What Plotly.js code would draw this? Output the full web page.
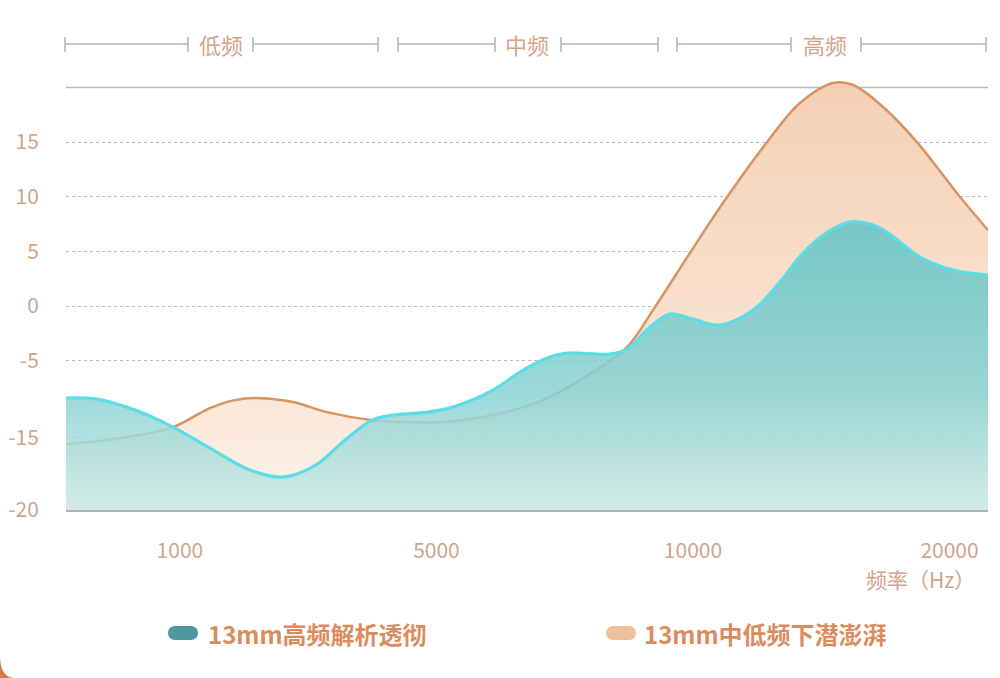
<!DOCTYPE html>
<html>
<head>
<meta charset="utf-8">
<script src="https://cdn.plot.ly/plotly-3.0.1.min.js"></script>
<style>html,body{margin:0;padding:0;background:#fff;}#chart{width:1000px;height:678px;}</style>
</head>
<body>
<div id="chart"></div>
<script>
// ---------- data ----------
const freqLabels = ['1000', '5000', '10000', '20000'];
const freqPos = [1, 2, 3, 4];
const dbTickText = ['15', '10', '5', '0', '-5', '-15', '-20'];
const dbTickVals = [15, 10, 5, 0, -5, -12, -18.65];
const bandLabels = ['低频', '中频', '高频'];
const seriesNames = ['13mm高频解析透彻', '13mm中低频下潜澎湃'];

const tealX = [0.556,0.676,0.825,0.973,1.117,1.273,1.402,1.526,1.643,1.749,1.830,1.95,2.064,2.220,2.326,2.431,2.509,2.676,2.743,2.832,2.910,3.0,3.105,3.234,3.339,3.429,3.52,3.612,3.69,3.756,3.885,4.014,4.150];
const tealY = [-8.42,-8.51,-9.51,-11.07,-12.99,-15.0,-15.64,-14.6,-12.26,-10.43,-9.97,-9.75,-9.24,-7.69,-6.04,-4.76,-4.30,-4.39,-3.93,-1.92,-0.73,-1.19,-1.74,-0.37,2.2,4.85,6.7,7.69,7.5,6.77,4.48,3.29,2.84];

const orangeX = [0.556,0.793,0.973,1.117,1.214,1.312,1.441,1.573,1.749,1.858,2.025,2.220,2.415,2.610,2.743,2.844,2.988,3.133,3.289,3.417,3.546,3.624,3.741,3.873,4.041,4.150];
const orangeY = [-12.63,-11.99,-11.07,-9.33,-8.60,-8.42,-8.78,-9.70,-10.43,-10.61,-10.61,-9.97,-8.60,-6.04,-3.75,-0.37,4.85,9.97,15.0,18.57,20.40,20.22,18.21,15.0,9.97,6.95];

// ---------- layout constants ----------
const X_RANGE = [0.556, 4.15];
const Y_RANGE = [-18.65, 20.95];
const TOP_LINE = 20;
const M = {l: 66, r: 12, t: 77, b: 168};
const W = 1000, H = 678;
const plotW = W - M.l - M.r, plotH = H - M.t - M.b;
const px2x = p => (p - M.l) / plotW;
const py2y = p => (H - M.b - p) / plotH;

const FONT = '"Noto Sans CJK SC", "Noto Sans", sans-serif';
const TAN = '#cfa48b';
const GRID = '#b3bbc8';

const baseline = (xs) => ({
  x: [xs[0], xs[xs.length - 1]], y: [Y_RANGE[0], Y_RANGE[0]],
  mode: 'lines', line: {width: 0, color: 'rgba(0,0,0,0)'},
  hoverinfo: 'skip', showlegend: false
});

const traces = [
  baseline(orangeX),
  {
    x: orangeX, y: orangeY, name: seriesNames[1], mode: 'lines',
    line: {shape: 'spline', smoothing: 1, color: '#d8935f', width: 2.5},
    fill: 'tonexty',
    fillgradient: {type: 'vertical', start: Y_RANGE[0], stop: Math.max(...orangeY),
      colorscale: [[0, 'rgba(252,240,230,0.88)'], [0.35, 'rgba(249,224,204,0.88)'], [1, 'rgba(243,203,172,0.9)']]},
    showlegend: false
  },
  baseline(tealX),
  {
    x: tealX, y: tealY, name: seriesNames[0], mode: 'lines',
    line: {shape: 'spline', smoothing: 1, color: '#5cdde6', width: 3.2},
    fill: 'tonexty',
    fillgradient: {type: 'vertical', start: Y_RANGE[0], stop: Math.max(...tealY),
      colorscale: [[0, 'rgba(200,233,230,0.8)'], [0.4, 'rgba(138,211,211,0.85)'], [1, 'rgba(100,196,198,0.88)']]},
    showlegend: false
  }
];

// top frequency band brackets
const bandSegs = [
  [[65, 188], 221, [253, 378]],
  [[398, 495], 527, [561, 658]],
  [[677, 791], 825, [861, 986]]
];
const BAND_Y = 44, BAND_T0 = 37, BAND_T1 = 52;
const shapes = [];
const annotations = [];
const bandLine = {color: '#abb4c0', width: 1.5};
bandSegs.forEach((b, i) => {
  [b[0], b[2]].forEach(seg => {
    shapes.push({type: 'line', xref: 'paper', yref: 'paper', x0: px2x(seg[0]), x1: px2x(seg[1]), y0: py2y(BAND_Y), y1: py2y(BAND_Y), line: bandLine});
    seg.forEach(p => shapes.push({type: 'line', xref: 'paper', yref: 'paper', x0: px2x(p), x1: px2x(p), y0: py2y(BAND_T0), y1: py2y(BAND_T1), line: bandLine}));
  });
  annotations.push({xref: 'paper', yref: 'paper', x: px2x(b[1]), y: py2y(BAND_Y), text: bandLabels[i],
    showarrow: false, xanchor: 'center', yanchor: 'middle', font: {family: FONT, size: 22, color: '#d5a58b'}});
});

// top solid line
shapes.push({type: 'line', xref: 'paper', yref: 'y', x0: 0, x1: 1, y0: TOP_LINE, y1: TOP_LINE, line: {color: '#b3bdc8', width: 1.5}, layer: 'below'});

// axis title
annotations.push({xref: 'paper', yref: 'paper', x: px2x(977), y: py2y(579), text: '频率（Hz）', showarrow: false,
  xanchor: 'right', yanchor: 'middle', font: {family: FONT, size: 21, color: TAN}});

// legend (custom pills)
const pill = 'M -8,-7 L 8,-7 C 11.87,-7 15,-3.87 15,0 C 15,3.87 11.87,7 8,7 L -8,7 C -11.87,7 -15,3.87 -15,0 C -15,-3.87 -11.87,-7 -8,-7 Z';
const legendItems = [
  {cx: 183, tx: 206, color: '#4b999e'},
  {cx: 621, tx: 642, color: '#efc09c'}
];
legendItems.forEach((it, i) => {
  shapes.push({type: 'path', xref: 'paper', yref: 'paper', xsizemode: 'pixel', ysizemode: 'pixel',
    xanchor: px2x(it.cx), yanchor: py2y(633), path: pill, fillcolor: it.color, line: {width: 0}});
  annotations.push({xref: 'paper', yref: 'paper', x: px2x(it.tx), y: py2y(633), text: '<b>' + seriesNames[i] + '</b>',
    showarrow: false, xanchor: 'left', yanchor: 'middle', font: {family: FONT, size: 24, color: '#db8c5d'}});
});

// bottom-left card corner
shapes.push({type: 'path', xref: 'paper', yref: 'paper',
  path: `M ${px2x(0)},${py2y(658)} L ${px2x(0)},${py2y(678)} L ${px2x(14)},${py2y(678)} Q ${px2x(1)},${py2y(677)} ${px2x(0)},${py2y(658)} Z`,
  fillcolor: '#d27a45', line: {width: 0}});

const layout = {
  width: W, height: H,
  margin: M,
  paper_bgcolor: '#ffffff', plot_bgcolor: '#ffffff',
  showlegend: false,
  font: {family: FONT, color: TAN},
  xaxis: {
    range: X_RANGE, tickvals: freqPos, ticktext: freqLabels,
    showgrid: false, zeroline: false, showline: true, linecolor: '#aab3bf', linewidth: 2,
    ticks: 'outside', ticklen: 21, tickcolor: 'rgba(0,0,0,0)',
    tickfont: {family: FONT, size: 21, color: TAN}, fixedrange: true
  },
  yaxis: {
    range: Y_RANGE, tickvals: dbTickVals, ticktext: dbTickText,
    showgrid: true, gridcolor: GRID, griddash: 'dot', gridwidth: 1,
    zeroline: false, showline: false,
    ticks: 'outside', ticklen: 22, tickcolor: 'rgba(0,0,0,0)',
    tickfont: {family: FONT, size: 21, color: TAN}, fixedrange: true
  },
  shapes: shapes,
  annotations: annotations
};

Plotly.newPlot('chart', traces, layout, {displayModeBar: false, staticPlot: true});
</script>
</body>
</html>
